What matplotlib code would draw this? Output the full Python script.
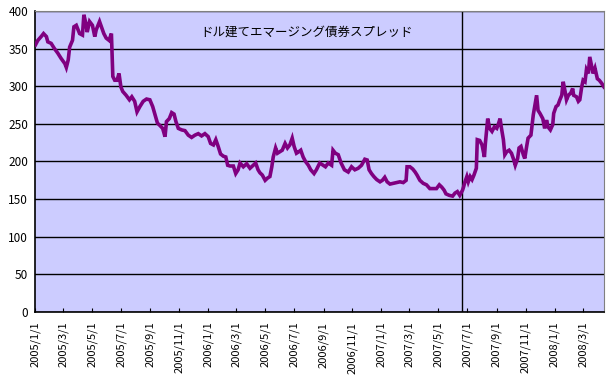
import numpy as np
import matplotlib
matplotlib.use("Agg")
import matplotlib.pyplot as plt
import matplotlib.dates as mdates

plt.rcParams['font.family'] = ['Noto Sans CJK JP', 'DejaVu Sans']

# days since 2005-01-01 and spread values (bp)
days = [1, 6, 13, 18, 24, 27, 34, 41, 48, 55, 63, 66, 70, 73, 79, 82, 87, 94, 100, 103,
        107, 110, 115, 121, 126, 129, 136, 140, 145, 150, 156, 161, 162, 164, 168, 173, 177, 181, 185, 192,
        199, 204, 210, 215, 221, 228, 235, 242, 248, 253, 258, 263, 269, 274, 277, 283, 288, 293, 297, 302,
        309, 316, 323, 330, 337, 344, 351, 358, 365, 370, 376, 381, 386, 391, 397, 402, 406, 411, 418, 423,
        428, 432, 439, 446, 453, 460, 465, 470, 474, 479, 485, 490, 495, 499, 502, 507, 511, 516, 521, 527,
        532, 537, 542, 546, 551, 556, 560, 565, 570, 576, 581, 588, 593, 600, 607, 612, 618, 625, 628, 633,
        639, 645, 652, 660, 667, 674, 681, 688, 695, 700, 704, 709, 714, 720, 727, 732, 737, 742, 748, 755,
        762, 769, 776, 782, 784, 790, 796, 801, 805, 811, 818, 825, 832, 839, 846, 852, 857, 862, 866, 873,
        880, 885, 890, 895, 901, 903, 906, 910, 913, 917, 921, 925, 930, 932, 937, 942, 947, 949, 954, 958,
        963, 968, 973, 976, 980, 983, 987, 990, 994, 999, 1004, 1009, 1012, 1017, 1020, 1024, 1029, 1032, 1036, 1039,
        1045, 1047, 1050, 1053, 1057, 1060, 1064, 1070, 1074, 1078, 1081, 1086, 1091, 1093, 1098, 1102, 1106, 1110, 1113, 1117,
        1120, 1124, 1129, 1133, 1135, 1141, 1145, 1148, 1152, 1155, 1159, 1162, 1166, 1169, 1173, 1176, 1180, 1185, 1189, 1194,
        1199]
spread = [355, 361, 366, 370, 366, 359, 357, 350, 344, 337, 330, 325, 335, 352, 361, 379, 381, 370, 368, 395,
          384, 372, 386, 381, 366, 375, 386, 379, 370, 364, 361, 370, 352, 313, 308, 308, 317, 299, 293, 288,
          282, 286, 280, 266, 273, 280, 283, 282, 273, 262, 251, 248, 244, 233, 253, 257, 265, 263, 253, 244,
          242, 241, 235, 232, 235, 237, 234, 237, 233, 224, 222, 229, 220, 210, 207, 206, 195, 194, 194, 184,
          189, 198, 193, 197, 191, 195, 198, 189, 185, 182, 175, 178, 180, 193, 206, 218, 211, 213, 215, 224,
          218, 222, 231, 220, 211, 213, 215, 206, 200, 195, 189, 184, 189, 198, 195, 193, 198, 195, 215, 211,
          209, 198, 189, 186, 193, 189, 191, 195, 203, 202, 189, 184, 180, 176, 173, 175, 179, 173, 170, 171,
          172, 173, 172, 175, 193, 193, 190, 186, 182, 175, 171, 169, 164, 164, 164, 169, 166, 162, 157, 155,
          154, 158, 160, 155, 162, 166, 173, 180, 173, 180, 176, 182, 191, 229, 228, 222, 206, 224, 257, 244,
          240, 246, 244, 249, 257, 244, 229, 209, 213, 215, 211, 202, 195, 204, 218, 220, 209, 204, 220, 231,
          235, 246, 262, 273, 288, 268, 264, 257, 244, 255, 246, 242, 249, 264, 273, 275, 282, 288, 306, 293,
          282, 288, 291, 297, 288, 286, 280, 282, 299, 308, 306, 322, 317, 339, 326, 317, 324, 310, 308, 304,
          299]

start = np.datetime64('2005-01-01')
end_day = 1199
marker_date = np.datetime64('2007-06-20')
tick_dates = ['2005-01-01', '2005-03-01', '2005-05-01', '2005-07-01', '2005-09-01', '2005-11-01',
              '2006-01-01', '2006-03-01', '2006-05-01', '2006-07-01', '2006-09-01', '2006-11-01',
              '2007-01-01', '2007-03-01', '2007-05-01', '2007-07-01', '2007-09-01', '2007-11-01',
              '2008-01-01', '2008-03-01']
title = "ドル建てエマージング債券スプレッド"

dates = start + np.array(days)

fig = plt.figure(figsize=(6.08, 3.83), dpi=100)
ax = fig.add_axes([35/608, 71/383, 569/608, 301/383])
ax.set_facecolor('#CCCCFF')

ax.set_ylim(0, 400)
ax.set_yticks(np.arange(0, 401, 50))
ax.set_xlim(start, start + end_day)
ax.yaxis.grid(True, color='black', lw=1)
ax.set_axisbelow(True)

ax.plot(dates, spread, color='#800080', lw=2.6, solid_joinstyle='miter', zorder=3)
ax.axvline(marker_date, color='black', lw=1, zorder=2)

ticks = [np.datetime64(t) for t in tick_dates]
ax.set_xticks(ticks)
ax.set_xticklabels([f"{t.astype(object).year}/{t.astype(object).month}/{t.astype(object).day}" for t in ticks],
                   rotation=90, fontsize=8)
ax.tick_params(axis='x', direction='in', length=3, pad=7, color='black')
ax.tick_params(axis='y', length=0, pad=5, labelsize=8.5)

for s in ['top', 'right']:
    ax.spines[s].set_color('#808080')
for s in ['left', 'bottom']:
    ax.spines[s].set_color('black')
    ax.spines[s].set_linewidth(1.2)

ax.text(0.477, 0.93, title, transform=ax.transAxes, ha='center', va='center', fontsize=9)

fig.savefig('out.png', dpi=100)
